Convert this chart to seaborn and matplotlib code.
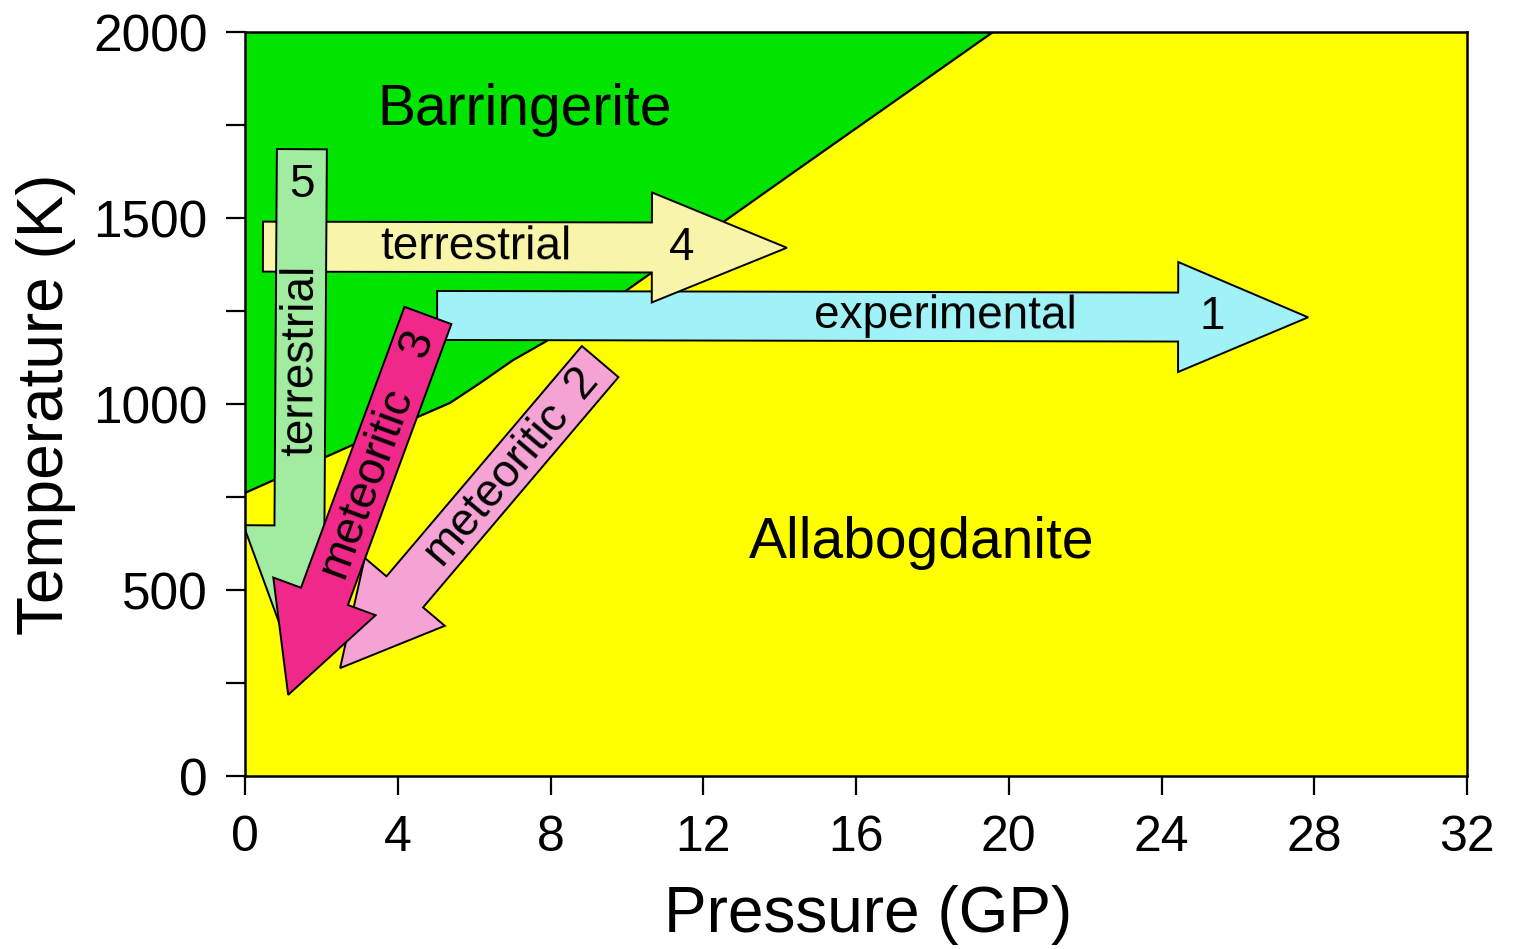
import numpy as np
import matplotlib
matplotlib.use("Agg")
import matplotlib.pyplot as plt
from matplotlib.patches import Polygon
import seaborn as sns
import pandas as pd

# ---------------- data ----------------
# phase boundary between Barringerite (above) and Allabogdanite (below)
boundary_p = [0.0, 2.93, 4.63, 5.37, 6.15, 7.02, 7.86, 10.0, 14.45, 19.59]
boundary_t = [761, 895, 970, 1003, 1056, 1118, 1167, 1306, 1629, 2000]

# arrows (pressure in GPa, temperature in K): tail -> tip
arrow_ids = ["1", "4", "5", "2", "3"]
arrow_labels = ["experimental", "terrestrial", "terrestrial", "meteoritic", "meteoritic"]
arrow_start_p = [5.03, 0.47, 1.49, 9.30, 4.79]
arrow_start_t = [1238, 1423, 1685, 1114, 1238]
arrow_end_p = [27.84, 14.19, 1.40, 2.49, 1.13]
arrow_end_t = [1233, 1420, 270, 290, 218]

phase_names = ["Barringerite", "Allabogdanite"]

x_ticks = [0, 4, 8, 12, 16, 20, 24, 28, 32]
y_ticks = [0, 250, 500, 750, 1000, 1250, 1500, 1750, 2000]
y_tick_labels = ["0", "", "500", "", "1000", "", "1500", "", "2000"]

# ---------------- styles ----------------
GREEN = "#00e400"
YELLOW = "#ffff00"
arrow_style = {
    # shaft width, head width, head length (px), face colour, label dist, number dist (px from tail), number upright
    "1": dict(sw=49, hw=110, hl=130, fc="#a0f2f6", ld=508, nd=775, up=False),
    "4": dict(sw=50, hw=110, hl=135, fc="#f8f4aa", ld=213, nd=419, up=False),
    "5": dict(sw=50, hw=112, hl=150, fc="#a2eca2", ld=211, nd=36, up=True),
    "2": dict(sw=48, hw=105, hl=100, fc="#f5a2d4", ld=160, nd=28, up=False),
    "3": dict(sw=50, hw=109, hl=105, fc="#f0288a", ld=178, nd=30, up=False),
}

W, H = 1517, 949
sns.set_theme(style="ticks")
plt.rcParams["font.family"] = ["Liberation Sans", "DejaVu Sans"]
plt.rcParams["text.color"] = "black"
plt.rcParams["axes.labelcolor"] = "black"
plt.rcParams["xtick.color"] = "black"
plt.rcParams["ytick.color"] = "black"

fig = plt.figure(figsize=(W / 100, H / 100), dpi=100)
ax = fig.add_axes([245 / W, 1 - 776 / H, 1222 / W, 744 / H])
ax.set_xlim(0, 32)
ax.set_ylim(0, 2000)
ax.set_facecolor(YELLOW)

# phase regions
bp = list(boundary_p) + [32.0]
bt = list(boundary_t) + [2000]
ax.fill_between(bp, bt, 2000, color=GREEN, lw=0, zorder=1)
bdf = pd.DataFrame({"p": boundary_p, "t": boundary_t})
sns.lineplot(data=bdf, x="p", y="t", color="black", lw=1.6, estimator=None,
             sort=False, ax=ax, zorder=2)

# arrows
inv = ax.transData.inverted()
for k, aid in enumerate(arrow_ids):
    st = arrow_style[aid]
    p0 = ax.transData.transform((arrow_start_p[k], arrow_start_t[k]))
    p1 = ax.transData.transform((arrow_end_p[k], arrow_end_t[k]))
    d = p1 - p0
    L = np.hypot(*d)
    u = d / L
    n = np.array([-u[1], u[0]])
    b = p1 - u * st["hl"]
    pts = [p0 + n * st["sw"] / 2, b + n * st["sw"] / 2, b + n * st["hw"] / 2, p1,
           b - n * st["hw"] / 2, b - n * st["sw"] / 2, p0 - n * st["sw"] / 2]
    pts = inv.transform(np.array(pts))
    ax.add_patch(Polygon(pts, closed=True, fc=st["fc"], ec="black", lw=1.4,
                         zorder=3 + k, joinstyle="miter"))
    ang = np.degrees(np.arctan2(u[1], u[0]))
    if ang <= -90:
        ang += 180
    elif ang > 90:
        ang -= 180
    lpos = inv.transform(p0 + u * st["ld"])
    npos = inv.transform(p0 + u * st["nd"])
    ax.text(lpos[0], lpos[1], arrow_labels[k], fontsize=33, rotation=ang,
            rotation_mode="anchor", ha="center", va="center", zorder=3 + k)
    ax.text(npos[0], npos[1], aid, fontsize=33, rotation=0 if st["up"] else ang,
            rotation_mode="anchor", ha="center", va="center", zorder=3 + k)

# phase labels
ax.text(7.33, 1790, phase_names[0], fontsize=41, ha="center", va="center", zorder=20)
ax.text(17.73, 626, phase_names[1], fontsize=41, ha="center", va="center", zorder=20)

# axes styling
ax.set_xticks(x_ticks)
ax.set_xticklabels([str(v) for v in x_ticks], fontsize=36)
ax.set_yticks(y_ticks)
ax.set_yticklabels(y_tick_labels, fontsize=37)
ax.tick_params(axis="both", which="major", direction="out", length=14, width=1.6,
               color="black", labelcolor="black")
ax.tick_params(axis="x", pad=14)
ax.tick_params(axis="y", pad=13)
for s in ax.spines.values():
    s.set_color("black")
    s.set_linewidth(1.8)
    s.set_zorder(30)
ax.set_xlabel("Pressure (GP)", fontsize=46, color="black", va="baseline")
ax.xaxis.set_label_coords((868 - 245) / 1222, (776 - 932) / 744)
ax.set_ylabel("Temperature (K)", fontsize=46, color="black", va="bottom")
ax.yaxis.set_label_coords((76 - 245) / 1222, 0.5)
ax.grid(False)

fig.savefig("out.png", dpi=100, facecolor="white")
